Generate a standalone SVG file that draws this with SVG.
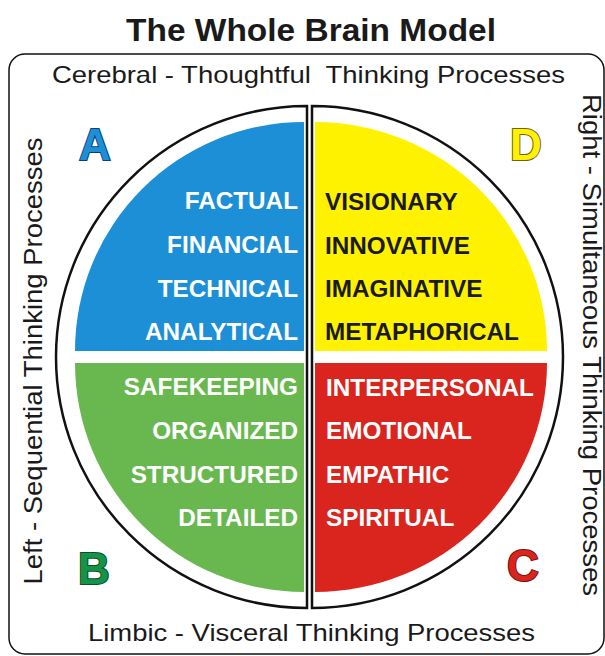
<svg xmlns="http://www.w3.org/2000/svg" width="605" height="656" viewBox="0 0 605 656">
<style>
.t{font-family:"Liberation Sans",Arial,sans-serif;fill:#1a1a1a}
.lbl{font-family:"Liberation Sans",Arial,sans-serif;font-weight:bold;font-size:24.3px}
.w{fill:#ffffff}
.k{fill:#1a1a1a}
.big{font-family:"Liberation Sans",Arial,sans-serif;font-weight:bold;font-size:44px;stroke-width:2;paint-order:stroke}
.edge{fill:none;stroke:#111;stroke-width:2.5}
</style>
<rect width="605" height="656" fill="#ffffff"/>
<text class="t" x="311" y="41" font-size="31" font-weight="bold" text-anchor="middle" textLength="370" lengthAdjust="spacingAndGlyphs">The Whole Brain Model</text>
<rect x="9" y="54" width="595" height="600" rx="16" fill="none" stroke="#111" stroke-width="1.5"/>
<text class="t" x="308.5" y="83" font-size="24" text-anchor="middle" textLength="513" lengthAdjust="spacingAndGlyphs" xml:space="preserve">Cerebral - Thoughtful  Thinking Processes</text>
<text class="t" x="311.5" y="641" font-size="24" text-anchor="middle" textLength="447" lengthAdjust="spacingAndGlyphs">Limbic - Visceral Thinking Processes</text>
<text class="t" transform="translate(42,361) rotate(-90)" x="0" y="0" font-size="25" text-anchor="middle" textLength="447" lengthAdjust="spacingAndGlyphs">Left - Sequential Thinking Processes</text>
<text class="t" transform="translate(583,345) rotate(90)" x="0" y="0" font-size="25" text-anchor="middle" textLength="502" lengthAdjust="spacingAndGlyphs">Right - Simultaneous Thinking Processes</text>

<g id="quadA">
<path d="M304,351 L75,351 A229,229 0 0 1 304,122 Z" fill="#1d8fd6"/>
<text class="big" x="79" y="160" fill="#1d8fd6" stroke="#0d3f73">A</text>
<text class="lbl w" x="298" y="209" text-anchor="end">FACTUAL</text>
<text class="lbl w" x="298" y="253" text-anchor="end">FINANCIAL</text>
<text class="lbl w" x="298" y="297" text-anchor="end">TECHNICAL</text>
<text class="lbl w" x="298" y="340" text-anchor="end">ANALYTICAL</text>
</g>
<g id="quadD">
<path d="M315,351 L315,122 A232,229 0 0 1 547,351 Z" fill="#fff200"/>
<text class="big" x="510" y="160" fill="#fff200" stroke="#6e6218">D</text>
<text class="lbl k" x="325" y="210">VISIONARY</text>
<text class="lbl k" x="325" y="254">INNOVATIVE</text>
<text class="lbl k" x="325" y="297">IMAGINATIVE</text>
<text class="lbl k" x="325" y="340">METAPHORICAL</text>
</g>
<g id="quadB">
<path d="M304,363 L304,592 A229,229 0 0 1 75,363 Z" fill="#69b84f"/>
<text class="big" x="78" y="584" fill="#159447" stroke="#0b4f26">B</text>
<text class="lbl w" x="298" y="395" text-anchor="end">SAFEKEEPING</text>
<text class="lbl w" x="298" y="439" text-anchor="end">ORGANIZED</text>
<text class="lbl w" x="298" y="483" text-anchor="end">STRUCTURED</text>
<text class="lbl w" x="298" y="526" text-anchor="end">DETAILED</text>
</g>
<g id="quadC">
<path d="M315,363 L547,363 A232,229 0 0 1 315,592 Z" fill="#d9251e"/>
<text class="big" x="507" y="581" fill="#d9251e" stroke="#7a1010">C</text>
<text class="lbl w" x="326" y="396">INTERPERSONAL</text>
<text class="lbl w" x="326" y="439">EMOTIONAL</text>
<text class="lbl w" x="326" y="483">EMPATHIC</text>
<text class="lbl w" x="326" y="526">SPIRITUAL</text>
</g>
<g id="connectors">
<path class="edge" d="M307,106 A251,251 0 0 0 307,608 Z"/>
<path class="edge" d="M312,106 A251,251 0 0 1 312,608 Z"/>
</g>
</svg>
